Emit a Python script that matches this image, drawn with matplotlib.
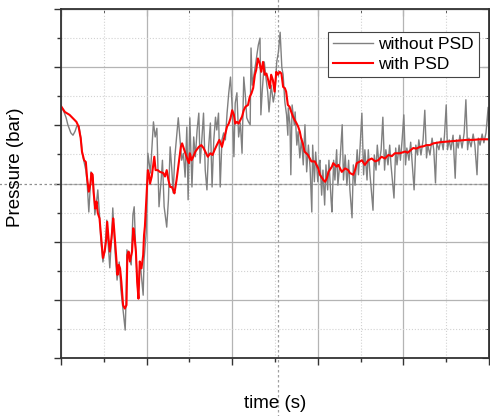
import matplotlib
matplotlib.use('Agg')
from matplotlib import pyplot as plt
from matplotlib.ticker import MultipleLocator

plt.rcParams['font.family'] = ['Liberation Sans', 'DejaVu Sans']

# with PSD (filtered signal)
red_t = [0.00, 0.09, 0.20, 0.28, 0.36, 0.41, 0.46, 0.49, 0.54, 0.58, 0.61, 0.65, 0.69, 0.71, 0.74, 0.76,
         0.80, 0.83, 0.86, 0.90, 0.94, 0.98, 1.02, 1.06, 1.08, 1.11, 1.14, 1.18, 1.22, 1.24, 1.27, 1.32,
         1.35, 1.38, 1.41, 1.45, 1.49, 1.53, 1.55, 1.58, 1.61, 1.66, 1.69, 1.72, 1.75, 1.78, 1.81, 1.84,
         1.88, 1.92, 1.94, 1.96, 2.03, 2.06, 2.08, 2.12, 2.16, 2.18, 2.21, 2.26, 2.31, 2.39, 2.43, 2.47,
         2.51, 2.55, 2.59, 2.62, 2.65, 2.70, 2.74, 2.78, 2.80, 2.83, 2.88, 2.91, 2.96, 2.99, 3.01, 3.05,
         3.09, 3.14, 3.22, 3.28, 3.33, 3.39, 3.43, 3.49, 3.54, 3.59, 3.64, 3.70, 3.76, 3.80, 3.84, 3.88,
         3.92, 3.96, 4.00, 4.04, 4.07, 4.11, 4.15, 4.23, 4.27, 4.31, 4.37, 4.41, 4.45, 4.49, 4.53, 4.56,
         4.60, 4.64, 4.68, 4.72, 4.76, 4.80, 4.84, 4.88, 4.91, 4.95, 4.99, 5.03, 5.07, 5.11, 5.15, 5.19,
         5.23, 5.26, 5.30, 5.34, 5.38, 5.42, 5.46, 5.50, 5.54, 5.58, 5.61, 5.65, 5.69, 5.73, 5.77, 5.85,
         5.93, 6.01, 6.05, 6.13, 6.17, 6.21, 6.25, 6.33, 6.36, 6.44, 6.48, 6.56, 6.64, 6.71, 6.75, 6.83,
         6.87, 6.91, 6.99, 7.03, 7.10, 7.18, 7.26, 7.34, 7.41, 7.49, 7.57, 7.65, 7.73, 7.80, 7.92, 8.04,
         8.10, 8.15, 8.23, 8.30, 8.39, 8.47, 8.54, 8.62, 8.70, 8.86, 9.01, 9.17, 9.32, 9.48, 9.63, 9.79, 10.0]
red_p = [4.33, 4.23, 4.18, 4.12, 4.06, 3.98, 3.78, 3.55, 3.40, 3.37, 3.09, 2.86, 3.00, 3.18, 3.15, 2.86,
         2.57, 2.69, 2.49, 2.40, 2.06, 1.72, 1.83, 2.06, 2.34, 2.06, 1.83, 2.06, 2.40, 2.23, 1.94, 1.43,
         1.60, 1.54, 1.31, 0.91, 0.85, 0.91, 1.77, 1.83, 1.66, 1.83, 2.23, 2.06, 1.83, 1.31, 1.02, 1.66,
         1.54, 1.77, 2.11, 2.26, 3.23, 3.15, 3.00, 3.12, 3.35, 3.46, 3.23, 3.23, 3.20, 3.18, 3.12, 3.23,
         3.06, 2.94, 2.94, 2.89, 2.83, 3.06, 3.29, 3.52, 3.63, 3.69, 3.58, 3.52, 3.40, 3.35, 3.52, 3.40,
         3.46, 3.55, 3.63, 3.66, 3.61, 3.52, 3.46, 3.52, 3.49, 3.58, 3.66, 3.75, 3.63, 3.75, 3.86, 3.98,
         4.03, 4.12, 4.26, 4.18, 4.03, 4.06, 4.03, 4.15, 4.26, 4.32, 4.35, 4.49, 4.55, 4.64, 4.87, 4.95,
         5.15, 5.07, 4.92, 5.09, 4.87, 4.89, 4.78, 4.64, 4.87, 4.78, 4.58, 4.92, 4.87, 4.92, 4.89, 4.66,
         4.64, 4.58, 4.35, 4.32, 4.23, 4.15, 4.09, 4.04, 3.98, 3.89, 3.78, 3.69, 3.55, 3.52, 3.49, 3.38,
         3.38, 3.26, 3.15, 3.06, 3.03, 3.09, 3.20, 3.29, 3.35, 3.29, 3.32, 3.20, 3.26, 3.23, 3.18, 3.15,
         3.23, 3.35, 3.38, 3.40, 3.32, 3.40, 3.43, 3.38, 3.40, 3.46, 3.43, 3.49, 3.47, 3.52, 3.52, 3.55,
         3.53, 3.56, 3.61, 3.60, 3.63, 3.64, 3.66, 3.66, 3.69, 3.71, 3.72, 3.73, 3.74, 3.75, 3.75, 3.76, 3.76]

# without PSD (raw signal)
gray_t = [0.00, 0.07, 0.12, 0.16, 0.23, 0.28, 0.33, 0.37, 0.42, 0.47, 0.49, 0.54, 0.58, 0.61, 0.65, 0.68,
          0.70, 0.75, 0.77, 0.79, 0.84, 0.86, 0.91, 0.93, 0.98, 1.03, 1.07, 1.10, 1.14, 1.19, 1.21, 1.26,
          1.31, 1.36, 1.40, 1.45, 1.50, 1.52, 1.54, 1.59, 1.64, 1.68, 1.71, 1.75, 1.80, 1.85, 1.87, 1.92,
          1.94, 1.99, 2.03, 2.06, 2.09, 2.16, 2.20, 2.24, 2.29, 2.34, 2.37, 2.41, 2.47, 2.51, 2.55, 2.59,
          2.62, 2.66, 2.74, 2.82, 2.86, 2.90, 2.94, 2.97, 3.01, 3.06, 3.10, 3.14, 3.18, 3.22, 3.25, 3.29,
          3.33, 3.37, 3.41, 3.45, 3.49, 3.53, 3.57, 3.61, 3.64, 3.68, 3.72, 3.76, 3.80, 3.84, 3.88, 3.92,
          3.96, 4.00, 4.04, 4.07, 4.11, 4.15, 4.19, 4.23, 4.27, 4.31, 4.34, 4.38, 4.42, 4.44, 4.47, 4.52,
          4.57, 4.61, 4.65, 4.67, 4.70, 4.75, 4.78, 4.83, 4.86, 4.91, 4.96, 5.00, 5.04, 5.08, 5.12, 5.16,
          5.19, 5.23, 5.27, 5.30, 5.31, 5.35, 5.37, 5.40, 5.45, 5.47, 5.51, 5.54, 5.58, 5.62, 5.66, 5.70,
          5.74, 5.78, 5.82, 5.86, 5.88, 5.92, 5.95, 6.00, 6.03, 6.05, 6.09, 6.12, 6.16, 6.19, 6.23, 6.26,
          6.31, 6.33, 6.37, 6.40, 6.44, 6.47, 6.52, 6.57, 6.60, 6.64, 6.68, 6.72, 6.75, 6.80, 6.83, 6.87,
          6.92, 6.95, 6.99, 7.03, 7.07, 7.10, 7.15, 7.18, 7.22, 7.29, 7.32, 7.36, 7.39, 7.43, 7.48, 7.52,
          7.56, 7.59, 7.64, 7.68, 7.71, 7.78, 7.82, 7.85, 7.90, 7.93, 7.97, 8.01, 8.05, 8.08, 8.13, 8.17,
          8.20, 8.25, 8.29, 8.33, 8.36, 8.41, 8.46, 8.50, 8.54, 8.57, 8.62, 8.67, 8.71, 8.75, 8.78, 8.83,
          8.88, 8.93, 8.96, 9.00, 9.03, 9.07, 9.11, 9.16, 9.21, 9.24, 9.28, 9.32, 9.37, 9.42, 9.46, 9.50,
          9.53, 9.58, 9.63, 9.67, 9.72, 9.75, 9.79, 9.84, 9.88, 9.93, 9.98, 10.0]
gray_p = [4.33, 4.23, 4.13, 4.01, 3.87, 3.83, 3.90, 3.99, 3.99, 3.75, 3.54, 3.37, 3.23, 3.03, 2.51, 2.89,
          3.20, 3.09, 2.80, 2.46, 2.75, 2.89, 2.34, 2.03, 1.65, 1.89, 2.37, 1.99, 1.55, 2.20, 2.58, 1.86,
          1.34, 1.65, 1.17, 0.83, 0.48, 1.00, 1.86, 1.72, 1.60, 2.46, 2.60, 1.77, 1.08, 1.65, 1.48, 1.08,
          1.68, 2.15, 3.52, 3.35, 3.18, 4.06, 3.80, 3.95, 2.60, 3.06, 3.40, 2.60, 2.25, 2.72, 3.63, 3.23,
          2.84, 3.46, 4.13, 3.40, 3.52, 3.11, 3.97, 2.72, 4.13, 2.94, 3.80, 3.46, 3.92, 4.21, 3.35, 3.75,
          4.21, 3.23, 2.89, 3.63, 4.04, 2.94, 3.75, 4.14, 3.92, 4.21, 2.94, 3.75, 3.87, 3.75, 4.21, 4.56,
          4.83, 4.31, 3.46, 4.38, 4.56, 3.80, 4.04, 3.52, 4.83, 4.49, 4.13, 4.06, 4.01, 5.33, 4.69, 4.92,
          5.17, 5.38, 5.50, 4.18, 4.57, 5.09, 4.87, 4.57, 4.23, 4.69, 4.40, 4.57, 5.09, 5.26, 5.60, 4.99,
          4.87, 4.40, 4.18, 3.83, 4.30, 4.01, 3.15, 4.35, 4.01, 4.23, 3.66, 3.89, 3.44, 3.78, 3.32, 4.01,
          3.20, 3.66, 3.27, 2.51, 3.66, 3.03, 3.54, 3.03, 3.32, 3.40, 2.80, 3.23, 2.63, 3.32, 2.89, 3.40,
          2.72, 2.51, 3.40, 3.06, 3.58, 2.97, 3.40, 4.01, 3.06, 3.49, 2.97, 3.40, 2.89, 2.41, 3.32, 2.97,
          3.58, 3.15, 3.66, 4.21, 3.15, 3.58, 3.06, 3.58, 3.15, 2.54, 3.49, 3.23, 3.66, 3.32, 3.58, 4.14,
          3.23, 3.58, 3.32, 3.66, 3.32, 2.75, 3.61, 3.32, 3.66, 3.40, 3.75, 4.18, 3.32, 3.61, 3.40, 3.71,
          3.40, 2.89, 3.66, 3.49, 3.75, 3.49, 3.75, 4.26, 3.44, 3.66, 3.49, 3.78, 3.58, 3.01, 3.71, 3.58,
          3.78, 3.58, 3.83, 4.35, 3.58, 3.75, 3.58, 3.83, 3.09, 3.75, 3.61, 3.83, 3.61, 3.87, 4.44, 3.58,
          3.78, 3.63, 3.85, 3.66, 3.15, 3.78, 3.66, 3.85, 3.70, 3.87, 4.31, 3.75]

fig = plt.figure(figsize=(4.9, 4.16), dpi=100)
ax = fig.add_axes([61/490, 58/416, 428/490, 349/416])

ax.plot(gray_t, gray_p, color='#808080', lw=1.0, label='without PSD')
ax.plot(red_t, red_p, color='#ff0000', lw=1.5, label='with PSD')

ax.set_xlim(0, 10)
ax.set_ylim(0, 6)
ax.xaxis.set_major_locator(MultipleLocator(2))
ax.xaxis.set_minor_locator(MultipleLocator(1))
ax.yaxis.set_major_locator(MultipleLocator(1))
ax.yaxis.set_minor_locator(MultipleLocator(0.5))
ax.grid(which='major', color='#b4b4b4', lw=0.9, ls='-')
ax.grid(which='minor', color='#d2d2d2', lw=0.8, ls=':')
ax.set_axisbelow(True)

ax.tick_params(which='both', labelbottom=False, labelleft=False, color='#333333')
ax.tick_params(which='major', length=5, width=1.0)
ax.tick_params(which='minor', length=3, width=1.0)
ax.tick_params(which='both', direction='out', top=False, right=False)
# inward ticks on the top and right edges
ax_top = ax.secondary_xaxis('top')
ax_top.xaxis.set_major_locator(MultipleLocator(2))
ax_top.xaxis.set_minor_locator(MultipleLocator(1))
ax_top.tick_params(which='both', direction='in', labeltop=False, color='#333333')
ax_top.tick_params(which='major', length=5)
ax_top.tick_params(which='minor', length=3)
ax_right = ax.secondary_yaxis('right')
ax_right.yaxis.set_major_locator(MultipleLocator(1))
ax_right.yaxis.set_minor_locator(MultipleLocator(0.5))
ax_right.tick_params(which='both', direction='in', labelright=False, color='#333333')
ax_right.tick_params(which='major', length=5)
ax_right.tick_params(which='minor', length=3)

for s in ax.spines.values():
    s.set_color('#333333')
    s.set_linewidth(1.3)
ax_top.spines['top'].set_color('#333333')
ax_right.spines['right'].set_color('#333333')

# dotted cursor lines
ax.axhline(3.0, xmin=-0.15, xmax=1.0, color='#909090', lw=0.9, ls=(0, (2, 2)), clip_on=False, zorder=1.5)
ax.axvline(5.07, ymin=-0.17, ymax=1.03, color='#a0a0a0', lw=0.9, ls=(0, (2, 2)), clip_on=False, zorder=1.5)

fig.text(16/490, 1 - 167/416, 'Pressure (bar)', rotation=90, ha='center', va='center', fontsize=13.5)
fig.text(275/490, 1 - 404/416, 'time (s)', ha='center', va='center', fontsize=13.5)

leg = ax.legend(loc='upper left', bbox_to_anchor=(0.624, 0.934), borderaxespad=0, fancybox=False,
                edgecolor='#444444', framealpha=1, fontsize=12.5, handlelength=2.3,
                handletextpad=0.3, labelspacing=0.25, borderpad=0.3)
leg.get_frame().set_linewidth(0.8)

fig.savefig('out.png', dpi=100)
